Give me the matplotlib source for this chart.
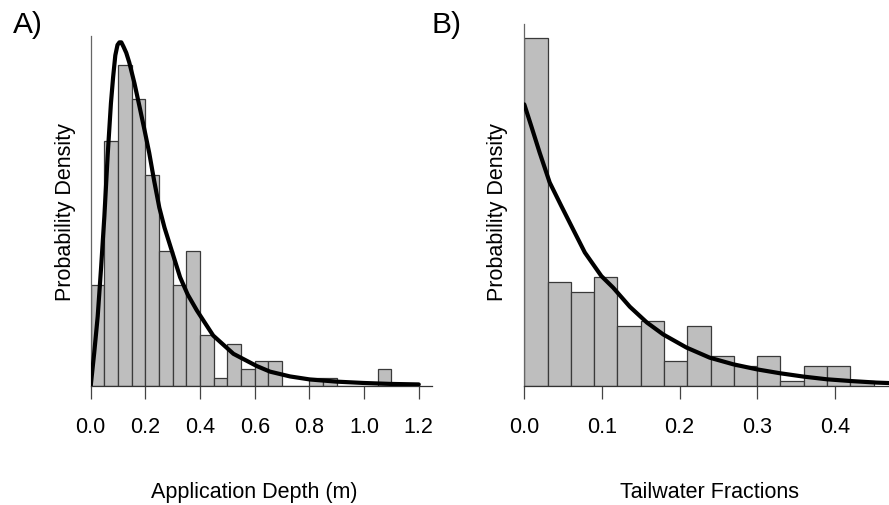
import matplotlib
matplotlib.use('Agg')
import matplotlib.pyplot as plt
import numpy as np

plt.rcParams['font.family'] = ['Liberation Sans', 'DejaVu Sans']

# ---------------- Panel A: application depth ----------------
depth_bin_width = 0.05
depth_counts = [12, 29, 38, 34, 25, 16, 12, 16, 6, 1, 5, 2, 3, 3, 0, 0, 1, 1, 0, 0, 0, 2]
depth_curve_x = [0.0, 0.0128, 0.0256, 0.038, 0.05, 0.062, 0.074, 0.082, 0.09, 0.098,
                 0.105, 0.112, 0.12, 0.13, 0.141, 0.16, 0.178, 0.195, 0.214, 0.232,
                 0.251, 0.27, 0.29, 0.327, 0.355, 0.388, 0.448, 0.522, 0.607, 0.656,
                 0.729, 0.802, 0.9, 0.997, 1.095, 1.2]
depth_curve_y = [0.0, 0.38, 0.8, 1.36, 1.95, 2.65, 3.25, 3.55, 3.8, 3.92,
                 3.95, 3.95, 3.9, 3.83, 3.72, 3.48, 3.22, 2.97, 2.68, 2.36,
                 2.05, 1.82, 1.62, 1.25, 1.05, 0.87, 0.58, 0.37, 0.23, 0.165,
                 0.11, 0.075, 0.05, 0.035, 0.024, 0.018]
depth_ticks = [0.0, 0.2, 0.4, 0.6, 0.8, 1.0, 1.2]
depth_tick_labels = ['0.0', '0.2', '0.4', '0.6', '0.8', '1.0', '1.2']

# ---------------- Panel B: tailwater fractions ----------------
tail_bin_width = 0.03
tail_counts = [70, 21, 19, 22, 12, 13, 5, 12, 6, 4, 6, 1, 4, 4, 1]
tail_curve_x = [0.0, 0.009, 0.0198, 0.0327, 0.0477, 0.0628, 0.078, 0.0993, 0.1145,
                0.136, 0.158, 0.179, 0.209, 0.239, 0.269, 0.2995, 0.329, 0.36,
                0.39, 0.42, 0.454, 0.49]
tail_curve_y = [9.45, 8.72, 7.83, 6.83, 6.04, 5.26, 4.48, 3.69, 3.30,
                2.66, 2.13, 1.73, 1.29, 0.95, 0.73, 0.56, 0.43, 0.315,
                0.225, 0.168, 0.114, 0.08]
tail_ticks = [0.0, 0.1, 0.2, 0.3, 0.4]
tail_tick_labels = ['0.0', '0.1', '0.2', '0.3', '0.4']

W, H = 889, 506
fig = plt.figure(figsize=(W / 100, H / 100), dpi=100)

BAR_FC = '#bebebe'
BAR_EC = '#3a3a3a'
FS = 15.5


def panel(rect, counts, width, cx, cy, ticks, labels, xlim, ylim, spine_top):
    ax = fig.add_axes(rect)
    counts = np.asarray(counts, dtype=float)
    dens = counts / (counts.sum() * width)
    edges = np.arange(len(counts)) * width
    ax.bar(edges, dens, width=width, align='edge', color=BAR_FC,
           edgecolor=BAR_EC, linewidth=0.9, zorder=2)
    ax.plot(cx, cy, color='black', lw=3.0, solid_capstyle='round',
            solid_joinstyle='round', zorder=3)
    ax.set_xlim(*xlim)
    ax.set_ylim(*ylim)
    ax.set_xticks(ticks)
    ax.set_xticklabels(labels, fontsize=FS)
    ax.set_yticks([])
    for s in ['top', 'right']:
        ax.spines[s].set_visible(False)
    ax.spines['left'].set_color('#666666')
    ax.spines['left'].set_linewidth(0.9)
    ax.spines['left'].set_bounds(0, spine_top)
    ax.spines['bottom'].set_color('#333333')
    ax.spines['bottom'].set_linewidth(0.9)
    ax.tick_params(axis='x', length=9.4, width=0.9, color='#444444', pad=12.5)
    ax.patch.set_alpha(0)
    return ax


base_px = 387.0
# Left panel: 0 -> 90.7 px, 1 unit -> 273.4 px; density 1 -> 87 px
lx0 = 90.7
lxw = 1.25 * 273.4
lh = 350.0
axA = panel([lx0 / W, (H - base_px) / H, lxw / W, lh / H], depth_counts, depth_bin_width,
            depth_curve_x, depth_curve_y, depth_ticks, depth_tick_labels,
            (0, 1.25), (0, lh / 87.0), lh / 87.0)

# Right panel: 0 -> 524.3 px, 1 unit -> 776 px; density 1 -> 29.8 px
rx0 = 524.3
rxw = 0.5 * 776
rh = 362.0
axB = panel([rx0 / W, (H - base_px) / H, rxw / W, rh / H], tail_counts, tail_bin_width,
            tail_curve_x, tail_curve_y, tail_ticks, tail_tick_labels,
            (0, 0.5), (0, rh / 29.8), rh / 29.8)

# Axis titles
fig.text(254 / W, 1 - 493 / H, 'Application Depth (m)', ha='center', va='center', fontsize=FS)
fig.text(709.5 / W, 1 - 493 / H, 'Tailwater Fractions', ha='center', va='center', fontsize=FS)
fig.text(66 / W, 1 - 212 / H, 'Probability Density', ha='center', va='center',
         rotation=90, fontsize=FS)
fig.text(498 / W, 1 - 212 / H, 'Probability Density', ha='center', va='center',
         rotation=90, fontsize=FS)

# Panel letters
fig.text(13 / W, 1 - 33 / H, 'A)', ha='left', va='baseline', fontsize=21.5)
fig.text(432 / W, 1 - 33 / H, 'B)', ha='left', va='baseline', fontsize=21.5)

fig.savefig('out.png', dpi=100)
